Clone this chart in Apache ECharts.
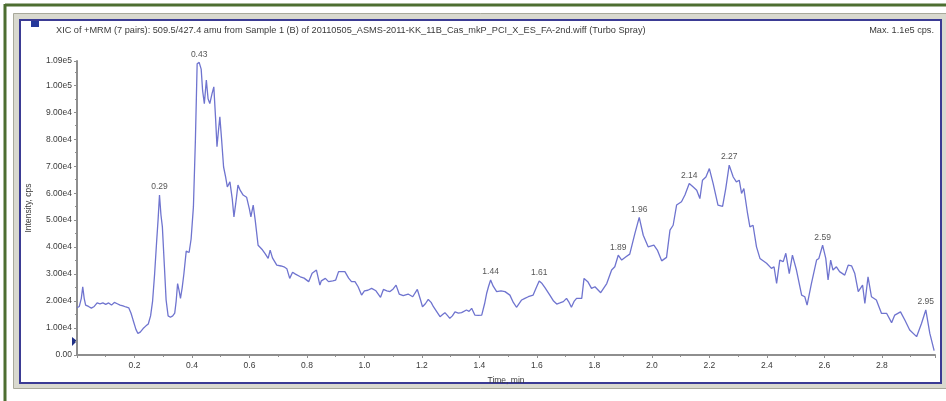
<!DOCTYPE html>
<html>
<head>
<meta charset="utf-8">
<script src="https://cdn.jsdelivr.net/npm/echarts@6.0.0/dist/echarts.min.js"></script>
<style>
	html, body { margin: 0; padding: 0; background: #ffffff; }
	#xic { width: 946px; height: 401px; }
</style>
</head>
<body>
<div id="xic"></div>
<script>
//////////// 데이터 ////////////
// 시간 (min)
var times = [
	0.000, 0.008, 0.015, 0.020, 0.025, 0.030, 0.040, 0.050, 0.060, 0.070,
	0.080, 0.090, 0.100, 0.110, 0.120, 0.130, 0.140, 0.150, 0.160, 0.170,
	0.180, 0.188, 0.195, 0.205, 0.212, 0.220, 0.230, 0.240, 0.248, 0.256,
	0.263, 0.270, 0.277, 0.282, 0.287, 0.292, 0.297, 0.304, 0.310, 0.317,
	0.325, 0.333, 0.340, 0.345, 0.350, 0.355, 0.360, 0.366, 0.372, 0.380,
	0.390, 0.397, 0.405, 0.412, 0.418, 0.425, 0.432, 0.437, 0.443, 0.450,
	0.456, 0.462, 0.470, 0.476, 0.482, 0.487, 0.492, 0.497, 0.503, 0.510,
	0.517, 0.523, 0.532, 0.540, 0.546, 0.552, 0.560, 0.568, 0.578, 0.590,
	0.600, 0.605, 0.613, 0.620, 0.630, 0.645, 0.655, 0.665, 0.672, 0.680,
	0.695, 0.710, 0.720, 0.730, 0.740, 0.750, 0.760, 0.777, 0.790, 0.806,
	0.818, 0.833, 0.845, 0.850, 0.864, 0.875, 0.890, 0.900, 0.910, 0.920,
	0.932, 0.945, 0.955, 0.967, 0.978, 0.990, 1.000, 1.012, 1.025, 1.040,
	1.056, 1.066, 1.078, 1.089, 1.100, 1.110, 1.121, 1.135, 1.141, 1.152,
	1.168, 1.184, 1.195, 1.202, 1.212, 1.222, 1.232, 1.240, 1.252, 1.263,
	1.272, 1.280, 1.290, 1.297, 1.306, 1.315, 1.327, 1.338, 1.355, 1.364,
	1.373, 1.384, 1.396, 1.408, 1.418, 1.425, 1.432, 1.439, 1.448, 1.460,
	1.475, 1.489, 1.506, 1.518, 1.529, 1.547, 1.558, 1.570, 1.587, 1.598,
	1.608, 1.618, 1.628, 1.645, 1.658, 1.669, 1.680, 1.692, 1.703, 1.712,
	1.720, 1.730, 1.738, 1.756, 1.764, 1.777, 1.790, 1.802, 1.822, 1.843,
	1.860, 1.871, 1.883, 1.895, 1.910, 1.923, 1.941, 1.956, 1.970, 1.987,
	2.007, 2.019, 2.034, 2.051, 2.063, 2.074, 2.086, 2.103, 2.115, 2.130,
	2.144, 2.156, 2.167, 2.176, 2.188, 2.200, 2.213, 2.230, 2.246, 2.257,
	2.269, 2.283, 2.294, 2.304, 2.312, 2.320, 2.332, 2.341, 2.352, 2.364,
	2.376, 2.399, 2.416, 2.425, 2.434, 2.445, 2.457, 2.466, 2.478, 2.489,
	2.503, 2.521, 2.532, 2.540, 2.555, 2.573, 2.581, 2.594, 2.605, 2.613,
	2.622, 2.630, 2.642, 2.653, 2.671, 2.683, 2.695, 2.706, 2.718, 2.733,
	2.741, 2.752, 2.764, 2.781, 2.799, 2.817, 2.834, 2.845, 2.865, 2.880,
	2.897, 2.921, 2.938, 2.953, 2.967, 2.982
];

// 강도 (cps)
var intensity = [
	17500, 18000, 21000, 25300, 21000, 18500, 18000, 17400, 18000, 19300,
	19000, 19300, 18800, 19300, 18500, 19500, 19000, 18500, 18200, 17800,
	17500, 15500, 13000, 9500, 8000, 8500, 9800, 10800, 11500, 14500,
	20000, 30000, 42000, 50000, 59300, 52000, 47500, 33000, 20400, 14500,
	14000, 14500, 15500, 20000, 26500, 24000, 21000, 25000, 30200, 38500,
	38000, 43000, 54900, 80000, 108000, 108500, 106000, 98000, 93200, 101900,
	95000, 93200, 97000, 99400, 88000, 77200, 83000, 88300, 80000, 69700,
	66000, 62300, 64200, 58000, 51200, 56000, 63000, 61000, 59300, 58500,
	54000, 51200, 55600, 50000, 40700, 39000, 37500, 35800, 38900, 36000,
	33300, 33000, 32700, 32000, 28400, 30700, 30000, 29000, 28500, 27200,
	30300, 31500, 25900, 27500, 28400, 27200, 27500, 27800, 30900, 30900,
	30900, 28500, 27200, 27200, 25300, 22200, 23800, 24000, 24700, 23800,
	21400, 24300, 23800, 23500, 24500, 25900, 22600, 22000, 21600, 22600,
	21600, 24300, 20500, 17900, 19000, 20600, 19500, 17900, 16000, 14200,
	15000, 15700, 14500, 13600, 14500, 16000, 15500, 15700, 16700, 16200,
	17300, 14800, 14700, 14800, 19000, 22800, 25500, 27800, 25500, 23500,
	23800, 23500, 22200, 19500, 17700, 20400, 21000, 21600, 22200, 25000,
	27400, 26500, 25000, 22200, 20000, 18900, 19300, 19800, 21000, 19500,
	17700, 20000, 21000, 21000, 28400, 27200, 24700, 25300, 23100, 26500,
	31500, 32700, 37000, 35200, 36400, 37400, 45100, 51000, 44400, 40100,
	40700, 38900, 34900, 36200, 46300, 48100, 55600, 56800, 59300, 63600,
	62300, 61100, 58000, 64800, 66000, 69100, 63600, 55600, 55100, 61700,
	70400, 66000, 64200, 64800, 59900, 61700, 53100, 47500, 48100, 40100,
	35800, 34000, 32100, 32700, 26500, 35200, 34600, 37700, 30200, 37000,
	31500, 22200, 21600, 18500, 26500, 35200, 35800, 40700, 35800, 27800,
	35200, 31500, 32700, 30900, 29600, 33300, 33000, 30200, 23500, 25900,
	19100, 29000, 21600, 20400, 15400, 15400, 12000, 14800, 16000, 13000,
	9300, 6800, 11700, 16700, 8000, 1600
];

// 피크 라벨 (min)
var peakLabels = ['0.29', '0.43', '1.44', '1.61', '1.89', '1.96', '2.14', '2.27', '2.59', '2.95'];

// 축 값
var yTicks = { max: 109000, interval: 10000 };
var xTicks = { max: 2.985, interval: 0.2 };

var titleText = 'XIC of +MRM (7 pairs): 509.5/427.4 amu from Sample 1 (B) of 20110505_ASMS-2011-KK_11B_Cas_mkP_PCI_X_ES_FA-2nd.wiff (Turbo Spray)';
var maxText = 'Max. 1.1e5 cps.';

//////////// 차트 ////////////
onReady(function() {
	showXicChart();
});

function onReady(fn) {
	if (document.readyState !== 'loading') fn();
	else document.addEventListener('DOMContentLoaded', fn);
}

// 피크 근처 최대값 위치 찾기
function findPeakIndex(label) {
	var t = parseFloat(label);
	var best = -1;
	for (var i = 0; i < times.length; i++) {
		if (Math.abs(times[i] - t) <= 0.015) {
			if (best < 0 || intensity[i] > intensity[best]) best = i;
		}
	}
	return best;
}

function showXicChart() {
	var chart = echarts.init(document.getElementById('xic'));

	var font = 'Liberation Sans, Arial, sans-serif';

	// 라인 데이터
	var lineData = times.map(function(t, i) {
		return [t, intensity[i]];
	});

	// 피크 라벨 데이터
	var peakData = peakLabels.map(function(label) {
		var i = findPeakIndex(label);
		return { name: label, value: [times[i], intensity[i]] };
	});

	var option = {
		backgroundColor: '#ffffff',
		animation: false,
		title: [
			{
				text: titleText,
				left: 51,
				top: 21,
				textStyle: { fontSize: 9.2, fontWeight: 'normal', color: '#3a3a3a', fontFamily: font }
			},
			{
				text: maxText,
				right: 7,
				top: 21,
				textStyle: { fontSize: 9.2, fontWeight: 'normal', color: '#3a3a3a', fontFamily: font }
			}
		],
		graphic: [
			// 바깥 녹색 테두리
			{ type: 'line', z: -10, shape: { x1: 5, y1: 5, x2: 946, y2: 5 }, style: { stroke: '#4d6e31', lineWidth: 3 } },
			{ type: 'line', z: -10, shape: { x1: 5, y1: 4, x2: 5, y2: 401 }, style: { stroke: '#4d6e31', lineWidth: 3 } },
			// 회색 패널
			{ type: 'rect', z: -10, shape: { x: 13.5, y: 13.5, width: 940, height: 375 }, style: { fill: '#d9d9cf', stroke: '#a9a99b', lineWidth: 1 } },
			// 파란 테두리
			{ type: 'rect', z: -9, shape: { x: 20, y: 20, width: 921, height: 363 }, style: { fill: '#ffffff', stroke: '#3b3b94', lineWidth: 2 } },
			// 아이콘
			{ type: 'rect', z: -8, shape: { x: 31, y: 21, width: 8, height: 6 }, style: { fill: '#26399a' } },
			// 기준 마커
			{ type: 'polygon', z: -8, shape: { points: [[72, 337], [77, 341], [72, 346]] }, style: { fill: '#1f2f86' } }
		],
		grid: {
			left: 77,
			right: 11,
			top: 61,
			bottom: 46,
			containLabel: false
		},
		xAxis: {
			type: 'value',
			min: 0,
			max: xTicks.max,
			interval: xTicks.interval,
			name: 'Time, min',
			nameLocation: 'middle',
			nameGap: 21,
			nameTextStyle: { fontSize: 8.5, color: '#3a3a3a', fontFamily: font },
			axisLine: { lineStyle: { color: '#8e8e8e', width: 2 } },
			axisTick: { show: true, length: 3, lineStyle: { color: '#8e8e8e' } },
			minorTick: { show: true, splitNumber: 2, length: 2, lineStyle: { color: '#8e8e8e' } },
			splitLine: { show: false },
			axisLabel: {
				fontSize: 8.5,
				color: '#3a3a3a',
				fontFamily: font,
				margin: 6,
				formatter: function(v) {
					var k = Math.round(v / xTicks.interval);
					if (v <= 0 || Math.abs(v - k * xTicks.interval) > 1e-6) return '';
					return v.toFixed(1);
				}
			}
		},
		yAxis: {
			type: 'value',
			min: 0,
			max: yTicks.max,
			interval: yTicks.interval,
			name: 'Intensity, cps',
			nameLocation: 'middle',
			nameGap: 44,
			nameTextStyle: { fontSize: 8.5, color: '#3a3a3a', fontFamily: font },
			axisLine: { show: true, lineStyle: { color: '#8e8e8e', width: 2 } },
			axisTick: { show: true, length: 3, lineStyle: { color: '#8e8e8e' } },
			minorTick: { show: true, splitNumber: 2, length: 2, lineStyle: { color: '#8e8e8e' } },
			splitLine: { show: false },
			axisLabel: {
				fontSize: 8.5,
				color: '#3a3a3a',
				fontFamily: font,
				margin: 5,
				formatter: function(v) {
					if (v === 0) return '0.00';
					return v.toExponential(2).replace('e+', 'e');
				}
			}
		},
		series: [
			{
				// 크로마토그램
				type: 'line',
				data: lineData,
				showSymbol: false,
				symbol: 'none',
				lineStyle: { color: '#6f74cf', width: 1.3 }
			},
			{
				// 피크 라벨
				type: 'scatter',
				data: peakData,
				symbol: 'circle',
				symbolSize: 1,
				itemStyle: { color: 'rgba(0,0,0,0)' },
				label: {
					show: true,
					position: 'top',
					distance: 3,
					formatter: '{b}',
					fontSize: 8.5,
					color: '#2a2a2a',
					fontFamily: font
				},
				labelLayout: { hideOverlap: false }
			}
		]
	};

	chart.setOption(option);
}
</script>
</body>
</html>
